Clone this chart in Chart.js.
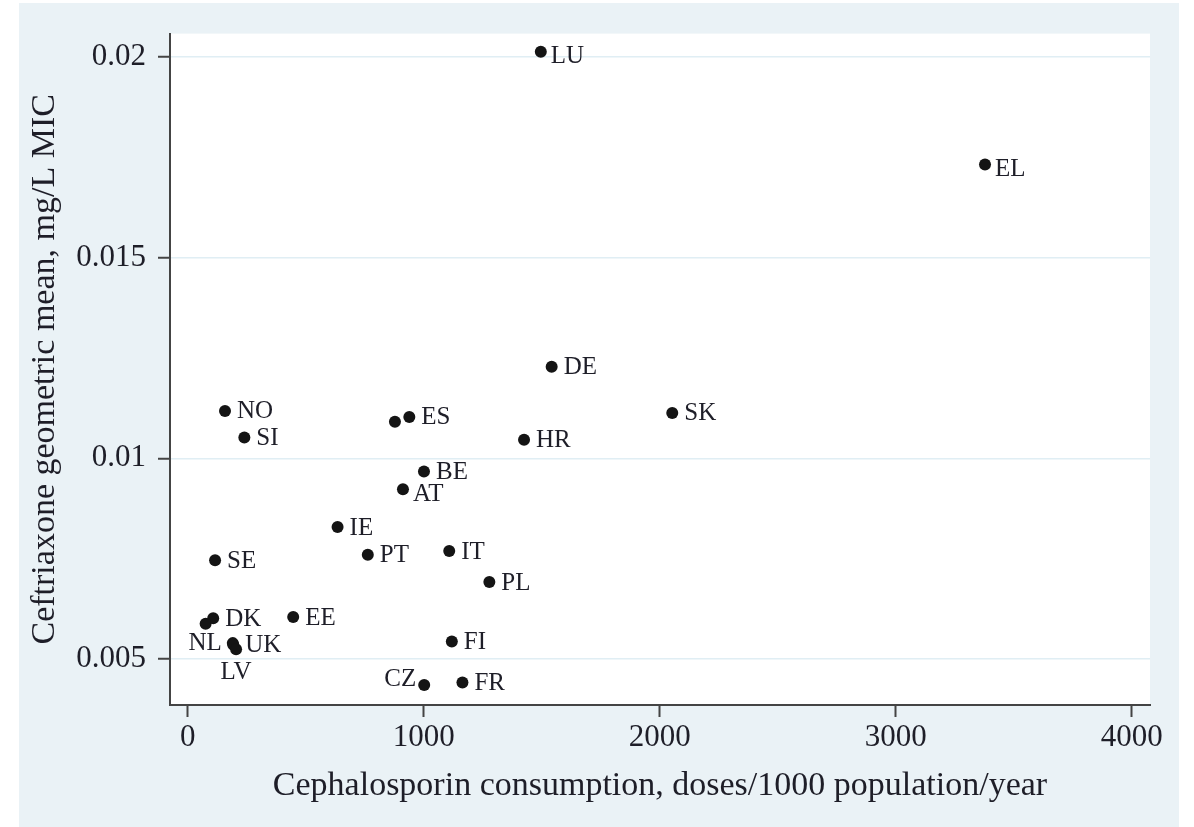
<!DOCTYPE html>
<html>
<head>
<meta charset="utf-8">
<script src="https://cdn.jsdelivr.net/npm/chart.js@4.4.1/dist/chart.umd.min.js"></script>
<style>
  html, body { margin: 0; padding: 0; background: #fff; }
  #frame { position: absolute; left: 19px; top: 3px; width: 1160px; height: 824px; background: rgb(234,242,246); }
  #chart { display: block; }
</style>
</head>
<body>
<div id="frame"><canvas id="chart" width="1160" height="824"></canvas></div>
<script>
// ── Data ──
const countries = ['LU','EL','DE','SK','NO','ES','','HR','SI','BE','AT','IE','PT','IT','SE','PL','DK','','EE','NL','UK','LV','FI','CZ','FR'];
const consumption = [1496, 3378, 1542, 2053, 158, 939, 878, 1425, 240, 1001, 912, 635, 763, 1108, 116, 1278, 108, 76, 447, 191, 193, 205, 1119, 1002, 1164];
const ceftriaxone = [0.02012, 0.01731, 0.01228, 0.01113, 0.01118, 0.01103, 0.01091, 0.01046, 0.01052, 0.00967, 0.00923, 0.00829, 0.0076, 0.00769, 0.00746, 0.00692, 0.00602, 0.00588, 0.00605, 0.0054, 0.00536, 0.00525, 0.00544, 0.00436, 0.00442];
const xTicks = [0, 1000, 2000, 3000, 4000];
const yTicks = [0.005, 0.01, 0.015, 0.02];

// label placement, clock positions (style only)
const labelPos = [4, 4, 3, 3, 3, 3, 0, 3, 3, 3, 4, 3, 3, 3, 3, 3, 3, 0, 3, 9, 3, 6, 3, 10, 3];
const clockOffset = { 3: [12, 1, 'left'], 4: [10, 5, 'left'], 9: [-11, 0, 'right'], 10: [-8, -5, 'right'], 6: [0, 23, 'center'] };

const ink = '#1e1e28';
const axisCol = '#444';
const serif = "'Liberation Serif', 'Times New Roman', serif";

const whitePlot = {
  id: 'whitePlot',
  beforeDraw(chart) {
    const { ctx, chartArea: a } = chart;
    ctx.save();
    ctx.fillStyle = '#fff';
    ctx.fillRect(a.left, a.top, a.right - a.left, a.bottom - a.top);
    ctx.restore();
  }
};

const pointLabels = {
  id: 'pointLabels',
  afterDatasetsDraw(chart) {
    const { ctx } = chart;
    const pts = chart.getDatasetMeta(0).data;
    ctx.save();
    ctx.font = '25px ' + serif;
    ctx.fillStyle = ink;
    ctx.textBaseline = 'middle';
    pts.forEach((p, i) => {
      const o = clockOffset[labelPos[i]];
      if (!countries[i] || !o) return;
      ctx.textAlign = o[2];
      ctx.fillText(countries[i], p.x + o[0], p.y + o[1]);
    });
    ctx.restore();
  }
};

new Chart(document.getElementById('chart'), {
  type: 'scatter',
  data: {
    datasets: [{
      data: consumption.map((x, i) => ({ x, y: ceftriaxone[i] })),
      backgroundColor: '#141414',
      borderWidth: 0,
      pointRadius: 6,
      pointHoverRadius: 6
    }]
  },
  options: {
    responsive: false,
    animation: false,
    layout: { padding: { left: 0, right: 29, top: 27, bottom: 0 } },
    plugins: { legend: { display: false }, tooltip: { enabled: false } },
    scales: {
      x: {
        type: 'linear', min: -75, max: 4077,
        afterBuildTicks: s => { s.ticks = xTicks.map(v => ({ value: v })); },
        afterFit: s => { s.height = 122; },
        grid: { drawOnChartArea: false, drawTicks: true, tickLength: 12, tickColor: axisCol, tickWidth: 2 },
        border: { display: true, color: axisCol, width: 2 },
        ticks: { color: ink, padding: 2, font: { family: serif, size: 31, lineHeight: 1.2 }, maxRotation: 0, callback: v => String(v) },
        title: { display: true, text: 'Cephalosporin consumption, doses/1000 population/year', color: ink,
                 font: { family: serif, size: 34, lineHeight: 1.2 }, padding: { top: 0, bottom: 21 } }
      },
      y: {
        type: 'linear', min: 0.00386, max: 0.02057,
        afterBuildTicks: s => { s.ticks = yTicks.map(v => ({ value: v })); },
        afterFit: s => { s.width = 151; },
        grid: { drawOnChartArea: true, color: 'rgb(224,238,244)', lineWidth: 1.5, drawTicks: true, tickLength: 12, tickColor: axisCol, tickWidth: 2 },
        border: { display: true, color: axisCol, width: 2 },
        ticks: { color: ink, padding: 12, font: { family: serif, size: 31, lineHeight: 1.2 }, callback: v => String(v) },
        title: { display: true, text: 'Ceftriaxone geometric mean, mg/L MIC', color: ink,
                 font: { family: serif, size: 34, lineHeight: 1.2 }, padding: { top: 6, bottom: 0 } }
      }
    }
  },
  plugins: [whitePlot, pointLabels]
});
</script>
</body>
</html>
